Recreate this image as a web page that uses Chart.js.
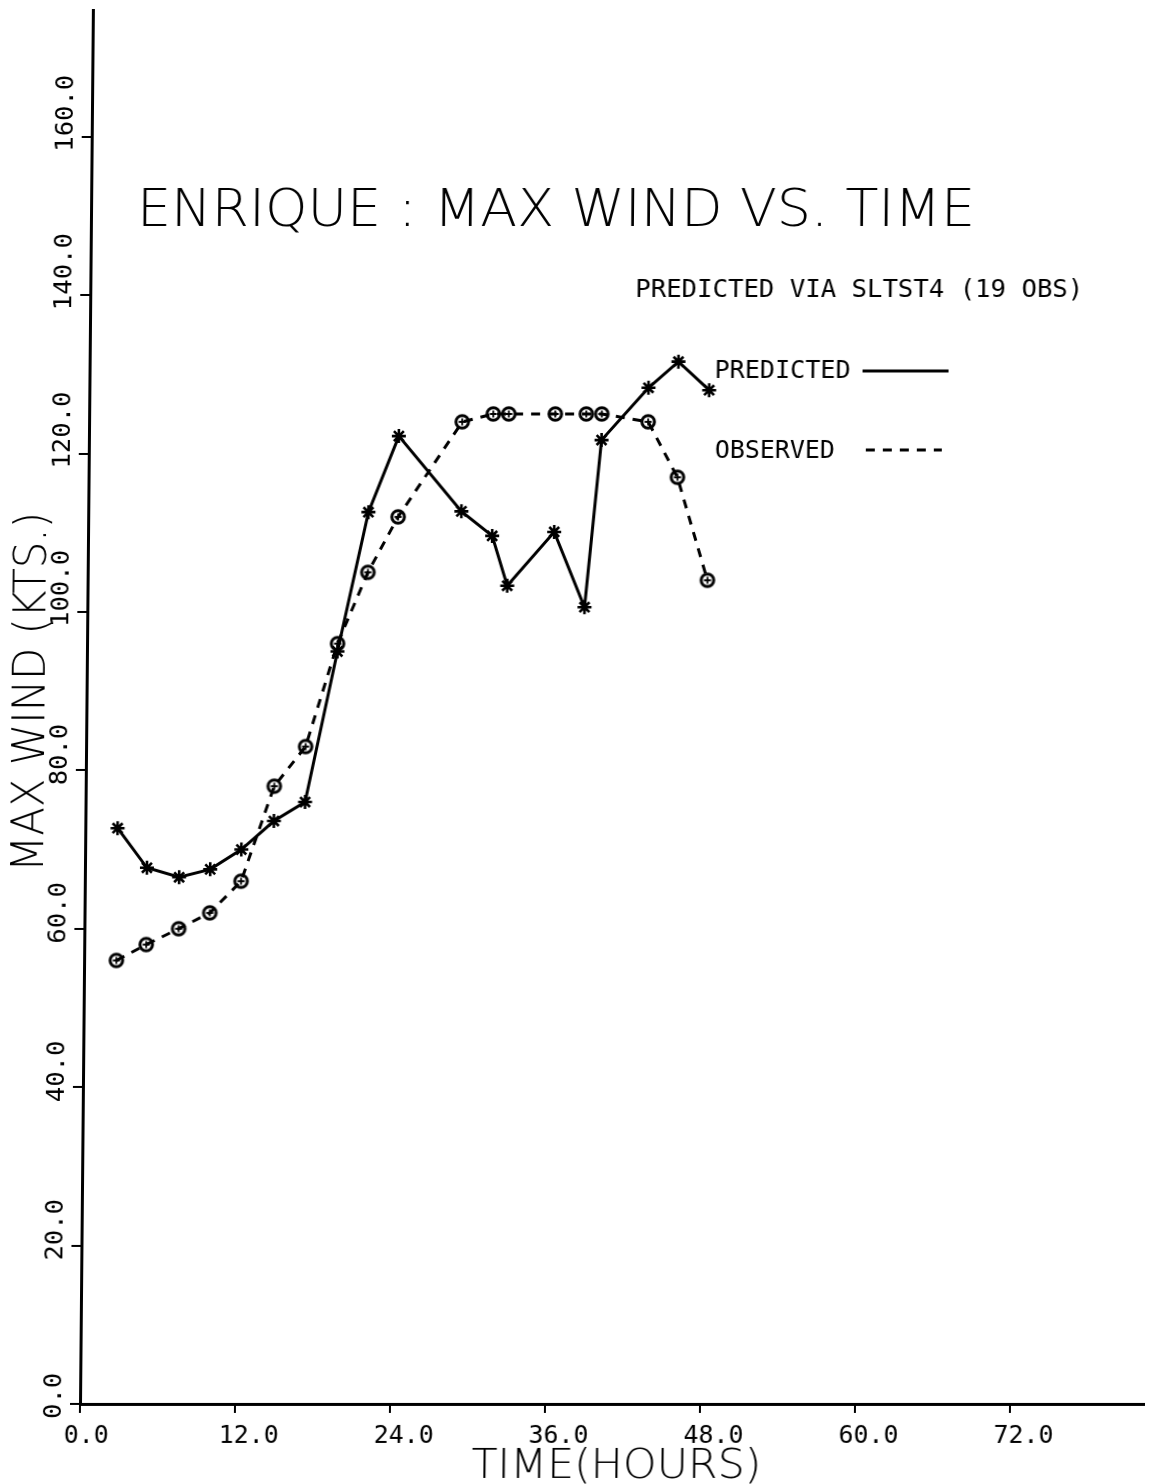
<!DOCTYPE html>
<html>
<head>
<meta charset="utf-8">
<script src="https://cdn.jsdelivr.net/npm/chart.js@4/dist/chart.umd.min.js"></script>
<style>
  html, body { margin: 0; padding: 0; background: #fff; }
  #wrap { width: 1154px; height: 1484px; overflow: hidden; }
  #plot { display: block; transform-origin: 80px 1404px; transform: skewX(-0.53deg); }
</style>
</head>
<body>
<div id="wrap"><canvas id="plot" width="1154" height="1484"></canvas></div>
<script>
// Hurricane Enrique: forecast vs. observed maximum sustained wind
const hours     = [2.5, 4.8, 7.3, 9.7, 12.1, 14.6, 17.0, 19.4, 21.7, 24.0, 28.9, 31.3, 32.5, 36.1, 38.5, 39.7, 43.3, 45.6, 48.0];
const predicted = [72.7, 67.7, 66.5, 67.5, 70.0, 73.6, 76.0, 95.0, 112.6, 122.2, 112.7, 109.6, 103.3, 110.1, 100.6, 121.7, 128.3, 131.6, 128.0];
const observed  = [56, 58, 60, 62, 66, 78, 83, 96, 105, 112, 124, 125, 125, 125, 125, 125, 124, 117, 104];

const xTicks = [0, 12, 24, 36, 48, 60, 72];
const yTicks = [0, 20, 40, 60, 80, 100, 120, 140, 160];

const titleText  = 'ENRIQUE : MAX WIND VS. TIME';
const subText    = 'PREDICTED VIA SLTST4 (19 OBS)';
const xTitleText = 'TIME(HOURS)';
const yTitleText = 'MAX WIND (KTS.)';
const seriesNames = ['PREDICTED', 'OBSERVED'];

const INK = '#000';
const MONO = '25px "DejaVu Sans Mono", "Liberation Mono", monospace';
const THIN = '"DejaVu Sans", "Liberation Sans", sans-serif';

// circle-with-cross marker used for the observed series
function circlePlus() {
  const c = document.createElement('canvas');
  c.width = 18; c.height = 18;
  const g = c.getContext('2d');
  g.strokeStyle = INK;
  g.lineWidth = 3;
  g.beginPath(); g.arc(9, 9, 6.3, 0, Math.PI * 2); g.stroke();
  g.lineWidth = 1.8;
  g.beginPath();
  g.moveTo(9, 5.5); g.lineTo(9, 12.5);
  g.moveTo(5.5, 9); g.lineTo(12.5, 9);
  g.stroke();
  return c;
}

// draw text squeezed/stretched to a given width
function fitText(g, text, x, y, width, font, vertical) {
  g.save();
  g.font = font;
  g.fillStyle = INK;
  g.textAlign = 'left';
  g.textBaseline = 'alphabetic';
  const w = g.measureText(text).width;
  g.translate(x, y);
  if (vertical) g.rotate(-Math.PI / 2);
  g.scale(width / w, 1);
  g.fillText(text, 0, 0);
  g.restore();
}

const fmt = v => v.toFixed(1);

const textPlugin = {
  id: 'plotterText',
  afterDraw(chart) {
    const g = chart.ctx;
    const xs = chart.scales.x, ys = chart.scales.y;

    // y tick labels, reading upward, starting just below each tick
    yTicks.forEach(v => {
      const py = ys.getPixelForValue(v);
      const s = fmt(v);
      fitText(g, s, 61, py + 15, s.length * 15.4, MONO, true);
    });
    // x tick labels, starting just left of each tick
    xTicks.forEach(v => {
      const px = xs.getPixelForValue(v);
      const s = fmt(v);
      fitText(g, s, px - 16, 1443, s.length * 15, MONO, false);
    });

    // titles
    fitText(g, titleText, 126, 226, 838, '200 52px ' + THIN, false);
    fitText(g, xTitleText, 472, 1478, 290, '200 40px ' + THIN, false);
    fitText(g, yTitleText, 38, 872, 360, '200 44px ' + THIN, true);

    // legend block
    fitText(g, subText, 625, 297, 448, MONO, false);
    fitText(g, seriesNames[0], 705, 378, 136, MONO, false);
    fitText(g, seriesNames[1], 706, 458, 120, MONO, false);

    g.save();
    g.strokeStyle = INK;
    g.lineWidth = 3;
    g.beginPath(); g.moveTo(853, 371); g.lineTo(939, 371); g.stroke();
    g.setLineDash([9, 8]);
    g.beginPath(); g.moveTo(857, 450); g.lineTo(933, 450); g.stroke();
    g.restore();
  }
};

const pts = (xsArr, ysArr) => xsArr.map((x, i) => ({ x, y: ysArr[i] }));

new Chart(document.getElementById('plot'), {
  type: 'line',
  data: {
    datasets: [
      {
        label: seriesNames[0],
        data: pts(hours, predicted),
        borderColor: INK,
        borderWidth: 3,
        pointStyle: 'star',
        pointRadius: 7,
        pointBorderWidth: 2.6,
        pointBorderColor: INK,
        pointBackgroundColor: INK,
        tension: 0,
        fill: false
      },
      {
        label: seriesNames[1],
        data: pts(hours, observed),
        borderColor: INK,
        borderWidth: 3,
        borderDash: [9, 8],
        pointStyle: circlePlus(),
        pointRadius: 7,
        tension: 0,
        fill: false
      }
    ]
  },
  options: {
    responsive: false,
    animation: false,
    events: [],
    layout: { padding: { top: 10, left: 0, right: 0, bottom: 0 } },
    plugins: { legend: { display: false }, tooltip: { enabled: false } },
    scales: {
      x: {
        type: 'linear',
        min: 0,
        max: 82.4,
        afterFit(s) { s.height = 80; },
        afterBuildTicks(s) { s.ticks = xTicks.map(v => ({ value: v })); },
        ticks: { display: false },
        grid: { display: true, drawOnChartArea: false, drawTicks: true, tickLength: 9, color: INK, lineWidth: 2 },
        border: { display: true, color: INK, width: 3 }
      },
      y: {
        type: 'linear',
        min: 0,
        max: 176,
        afterFit(s) { s.width = 80; },
        afterBuildTicks(s) { s.ticks = yTicks.map(v => ({ value: v })); },
        ticks: { display: false },
        grid: { display: true, drawOnChartArea: false, drawTicks: true, tickLength: 10, color: INK, lineWidth: 2 },
        border: { display: true, color: INK, width: 3 }
      }
    }
  },
  plugins: [textPlugin]
});
</script>
</body>
</html>
